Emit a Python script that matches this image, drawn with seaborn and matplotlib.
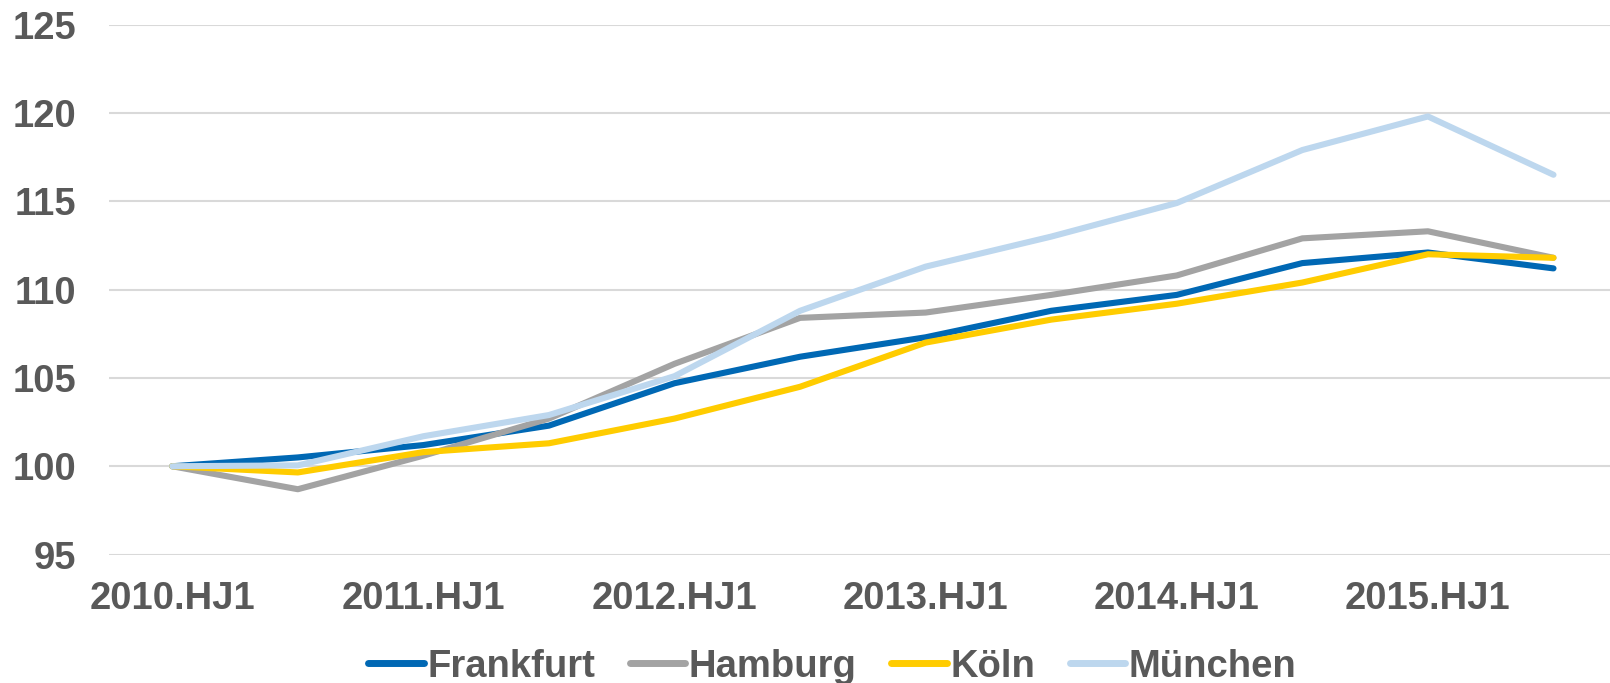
import pandas as pd
import numpy as np
import matplotlib
matplotlib.use('Agg')
import matplotlib.pyplot as plt
import seaborn as sns

periods = ['2010.HJ1', '2010.HJ2', '2011.HJ1', '2011.HJ2', '2012.HJ1', '2012.HJ2',
           '2013.HJ1', '2013.HJ2', '2014.HJ1', '2014.HJ2', '2015.HJ1', '2015.HJ2']
frankfurt = [100, 100.5, 101.2, 102.3, 104.7, 106.2, 107.3, 108.8, 109.7, 111.5, 112.1, 111.2]
hamburg = [100, 98.7, 100.6, 102.7, 105.8, 108.4, 108.7, 109.7, 110.8, 112.9, 113.3, 111.8]
koeln = [100, 99.65, 100.8, 101.3, 102.7, 104.5, 107.0, 108.3, 109.2, 110.4, 112.0, 111.8]
muenchen = [100, 100.05, 101.7, 102.9, 105.1, 108.8, 111.3, 113.0, 114.9, 117.9, 119.8, 116.5]
cities = ['Frankfurt', 'Hamburg', 'Köln', 'München']
colors = ['#0068B4', '#A3A3A3', '#FFCC00', '#BDD7EE']

df = pd.DataFrame({'Frankfurt': frankfurt, 'Hamburg': hamburg,
                   'Köln': koeln, 'München': muenchen})
df['pos'] = np.arange(len(periods))
long = df.melt(id_vars='pos', var_name='Stadt', value_name='Index')

sns.set_style('white')
plt.rcParams['font.family'] = ['Liberation Sans', 'DejaVu Sans']

fig = plt.figure(figsize=(16.1, 6.83), dpi=100)
ax = fig.add_axes([0.068, 0.188, 0.932, 0.776])

sns.lineplot(data=long, x='pos', y='Index', hue='Stadt', hue_order=cities,
             palette=colors, linewidth=4.4, sort=False, ax=ax, legend=False)
for line in ax.lines:
    line.set_solid_capstyle('round')
    line.set_solid_joinstyle('round')

ax.set_xlim(-0.5, 11.45)
ax.set_ylim(95, 125)
ax.set_yticks(range(95, 126, 5))
ax.set_xticks(range(0, 12, 2))
ax.set_xticklabels(periods[::2])
ax.yaxis.grid(True, color='#D9D9D9', linewidth=1.5)
ax.set_axisbelow(True)
for s in ax.spines.values():
    s.set_visible(False)
ax.tick_params(axis='both', length=0, labelsize=27.5, labelcolor='#595959')
ax.tick_params(axis='y', pad=24)
ax.tick_params(axis='x', pad=19)
for lab in ax.get_xticklabels() + ax.get_yticklabels():
    lab.set_fontweight('bold')
ax.set_xlabel('')
ax.set_ylabel('')

handles = [plt.Line2D([], [], color=c, linewidth=5, solid_capstyle='round') for c in colors]
leg = fig.legend(handles, cities, loc='center', bbox_to_anchor=(0.517, 0.024), ncol=4,
                 frameon=False, handlelength=1.45, handletextpad=0.1, columnspacing=0.9,
                 prop={'size': 27.5, 'weight': 'bold'})
for t in leg.get_texts():
    t.set_color('#595959')

plt.savefig('out.png', dpi=100)
